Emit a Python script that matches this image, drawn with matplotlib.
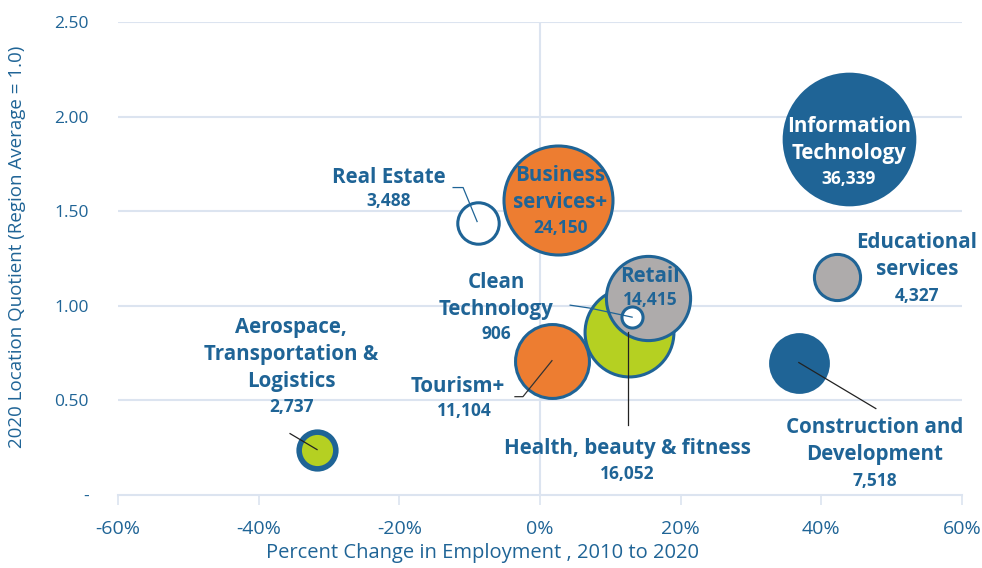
import matplotlib
matplotlib.use("Agg")
import matplotlib.pyplot as plt
from matplotlib.ticker import FuncFormatter

plt.rcParams['font.family'] = ['Open Sans', 'DejaVu Sans']

# data
clusters = ["Information Technology", "Business services+", "Real Estate",
            "Educational services", "Construction and Development",
            "Aerospace, Transportation & Logistics", "Tourism+",
            "Health, beauty & fitness", "Retail", "Clean Technology"]
pct_change = [43.9, 2.6, -8.8, 42.2, 36.8, -31.7, 1.7, 12.6, 15.4, 13.1]
location_quotient = [1.88, 1.56, 1.44, 1.15, 0.70, 0.24, 0.71, 0.86, 1.04, 0.94]
employment = [36339, 24150, 3488, 4327, 7518, 2737, 11104, 16052, 14415, 906]

x_ticks = [-60, -40, -20, 0, 20, 40, 60]
y_ticks = [0, 0.5, 1.0, 1.5, 2.0, 2.5]

BLUE = '#1F6496'
ORANGE = '#ED7D31'
GREEN = '#B5D022'
GRAY = '#AEABAB'
GRID = '#DCE4F0'

# styling per bubble (same order as clusters)
fill_colors = [BLUE, ORANGE, 'white', GRAY, BLUE, GREEN, ORANGE, GREEN, GRAY, 'white']
edge_widths = [0, 2.2, 2.2, 2.2, 0, 4.0, 2.2, 2.2, 2.2, 2.2]

# label layout: name text, name offset (px), number offset (px), text colour,
# leader line offsets (px, relative to bubble centre), leader colour
labels = {
    "Information Technology": ("Information\nTechnology", (0, 1), (0, 40), 'white', None, None),
    "Business services+": ("Business\nservices+", (2, -11), (2, 28), BLUE, None, None),
    "Real Estate": ("Real Estate", (-89, -45), (-89, -22), BLUE,
                    [(-25, -35), (-15, -35), (-1, -1)], BLUE),
    "Educational services": ("Educational\nservices", (80, -21), (80, 19), BLUE, None, None),
    "Construction and Development": ("Construction and\nDevelopment", (76, 78), (76, 118), BLUE,
                                     [(0, 0), (77, 46)], '#222222'),
    "Aerospace, Transportation & Logistics": ("Aerospace,\nTransportation &\nLogistics",
                                              (-26, -95), (-26, -43), BLUE,
                                              [(-27, -16), (0, 0)], '#222222'),
    "Tourism+": ("Tourism+", (-94, 26), (-88, 50), BLUE,
                 [(-37, 36), (-29, 36), (0, 0)], '#333333'),
    "Health, beauty & fitness": ("Health, beauty & fitness", (-1, 116), (-1, 142), BLUE,
                                 [(-1, 0), (-1, 93)], '#222222'),
    "Retail": ("Retail", (2, -22), (2, 2), BLUE, None, None),
    "Clean Technology": ("Clean\nTechnology", (-136, -21), (-136, 17), BLUE,
                         [(-62, -12), (-42, -9), (0, 0)], BLUE),
}

fig = plt.figure(figsize=(9.82, 5.68), dpi=100)
ax = fig.add_axes([118 / 982, 1 - 495 / 568, (962 - 118) / 982, (495 - 22) / 568])
ax.set_xlim(-60, 60)
ax.set_ylim(0, 2.5)

# grid
for y in y_ticks[1:]:
    ax.axhline(y, color=GRID, lw=1.5, zorder=0)
ax.axvline(0, color=GRID, lw=1.5, zorder=0)

for s in ['top', 'right', 'left']:
    ax.spines[s].set_visible(False)
ax.spines['bottom'].set_color(GRID)
ax.spines['bottom'].set_linewidth(1.5)

ax.set_xticks(x_ticks)
ax.xaxis.set_major_formatter(FuncFormatter(lambda v, p: f"{v:.0f}%"))
ax.tick_params(axis='x', length=7, width=1.2, color=GRID, labelcolor=BLUE,
               labelsize=14, pad=11)
ax.set_yticks(y_ticks)
ax.yaxis.set_major_formatter(FuncFormatter(lambda v, p: "-" if v == 0 else f"{v:.2f}"))
ax.tick_params(axis='y', length=0, labelcolor=BLUE, labelsize=12.5, pad=21)

fig.text(483 / 982, 1 - 553 / 568, "Percent Change in Employment , 2010 to 2020",
         color=BLUE, fontsize=14.5, ha='center', va='center')
fig.text(17 / 982, 1 - 247 / 568, "2020 Location Quotient (Region Average = 1.0)",
         color=BLUE, fontsize=13.5, ha='center', va='center', rotation=90)

# bubbles: area proportional to employment
size_k = 0.255
for i, name in enumerate(clusters):
    ax.scatter(pct_change[i], location_quotient[i], s=employment[i] * size_k,
               facecolor=fill_colors[i], edgecolor=BLUE, linewidth=edge_widths[i],
               zorder=2 + i, clip_on=False)


def off(x, y, dx, dy):
    px, py = ax.transData.transform((x, y))
    return ax.transData.inverted().transform((px + dx, py - dy))


for i, name in enumerate(clusters):
    x, y = pct_change[i], location_quotient[i]
    text, name_off, num_off, tcol, leader, lcol = labels[name]
    z = 20 if name in ("Information Technology", "Business services+", "Retail") else 30
    nx, ny = off(x, y, *name_off)
    ax.text(nx, ny, text, ha='center', va='center', color=tcol, fontsize=14.8,
            fontweight='bold', linespacing=1.38, zorder=z)
    cx, cy = off(x, y, *num_off)
    ax.text(cx, cy, f"{employment[i]:,}", ha='center', va='center', color=tcol,
            fontsize=12.5, fontweight='bold', zorder=z)
    if leader:
        pts = [off(x, y, dx, dy) for dx, dy in leader]
        ax.plot([p[0] for p in pts], [p[1] for p in pts], color=lcol, lw=0.9,
                zorder=25, clip_on=False)

fig.savefig("out.png", dpi=100)
